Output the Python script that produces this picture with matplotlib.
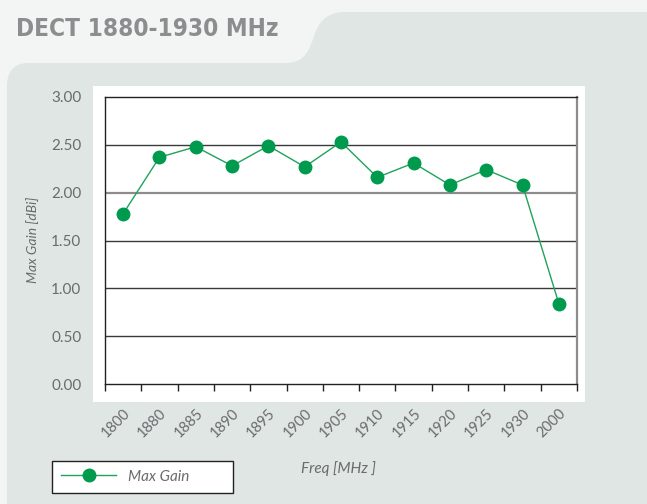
import matplotlib
matplotlib.use("Agg")
import matplotlib.pyplot as plt
from matplotlib.patches import PathPatch, Rectangle
from matplotlib.path import Path
from matplotlib.lines import Line2D
import numpy as np

# data
freqs = ['1800', '1880', '1885', '1890', '1895', '1900', '1905',
         '1910', '1915', '1920', '1925', '1930', '2000']
max_gain = [1.78, 2.37, 2.48, 2.28, 2.49, 2.27, 2.53,
            2.16, 2.31, 2.08, 2.24, 2.08, 0.84]
yticks = [0.0, 0.5, 1.0, 1.5, 2.0, 2.5, 3.0]

W, H = 647, 504
fig = plt.figure(figsize=(W / 100, H / 100), dpi=100)
fig.patch.set_facecolor('#f3f5f4')

def px(x, y):
    # pixel (from top-left) -> figure fraction
    return x / W, 1 - y / H

panel_col = '#e0e6e3'
# background panel with the tab on the top right
verts = [(660, 12), (345, 12),
         (325, 12), (318, 24), (314, 36),
         (308, 55), (302, 63), (285, 63),
         (28, 63),
         (14, 63), (7, 72), (7, 86),
         (7, 520), (660, 520), (660, 12)]
codes = [Path.MOVETO, Path.LINETO,
         Path.CURVE4, Path.CURVE4, Path.CURVE4,
         Path.CURVE4, Path.CURVE4, Path.CURVE4,
         Path.LINETO,
         Path.CURVE4, Path.CURVE4, Path.CURVE4,
         Path.LINETO, Path.LINETO, Path.CLOSEPOLY]
panel = Path([px(*v) for v in verts], codes)
fig.patches.append(PathPatch(panel, transform=fig.transFigure, fc=panel_col, ec='none', zorder=0))
# white plot box
fig.patches.append(Rectangle(px(93, 402), (585 - 93) / W, (402 - 86) / H,
                             transform=fig.transFigure, fc='white', ec='none', zorder=1))

fig.text(16 / W, 1 - 29 / H, 'DECT 1880-1930 MHz', fontsize=17.5, fontweight='bold',
         family=['DejaVu Sans'], stretch='condensed', color='#8b8d8f', va='center', ha='left')

l, b = px(105, 384)
r, t = px(577, 97)
ax = fig.add_axes([l, b, r - l, t - b])
ax.set_facecolor('none')
ax.set_zorder(2)

x = np.arange(len(freqs))
green = '#009a4e'
line, = ax.plot(x, max_gain, color='#1fa35b', lw=1, marker='o', markersize=9,
                markerfacecolor=green, markeredgecolor=green, zorder=3)

ax.set_xlim(-0.5, len(freqs) - 0.5)
ax.set_ylim(0, 3)

for yv in yticks[1:-1]:
    if yv == 2.0:
        ax.axhline(yv, color='#8c8c8c', lw=1.6, zorder=1)
    else:
        ax.axhline(yv, color='#3a3a3a', lw=1.0, zorder=1)

for s in ['top', 'left', 'bottom']:
    ax.spines[s].set_color('#222222')
    ax.spines[s].set_linewidth(1.0)
ax.spines['right'].set_color('#8c8c8c')
ax.spines['right'].set_linewidth(1.6)

light = ['Lato', 'DejaVu Sans']
txt_col = '#6a6b6d'
ax.set_yticks(yticks)
ax.set_yticklabels(['%.2f' % v for v in yticks], family=light,
                   fontsize=11, color=txt_col)
ax.tick_params(axis='y', length=0, pad=17)

ax.set_xticks(x)
ax.set_xticklabels(freqs, rotation=45, ha='right', va='top', rotation_mode='anchor',
                   family=light, fontsize=10.5, color=txt_col)
ax.tick_params(axis='x', which='major', length=0, pad=16)
ax.set_xticks(np.arange(len(freqs) + 1) - 0.5, minor=True)
ax.tick_params(axis='x', which='minor', length=5, width=1, color='#222222', direction='out')

fig.text(33 / W, 1 - 240 / H, 'Max Gain [dBi]', rotation=90, fontstyle='italic',
         family=light, fontsize=10, color=txt_col, ha='center', va='center')
fig.text(338 / W, 1 - 469 / H, 'Freq [MHz ]', fontstyle='italic',
         family=light, fontsize=11, color=txt_col, ha='center', va='center')

handle = Line2D([], [], color='#1fa35b', lw=1, marker='o', markersize=9,
                markerfacecolor=green, markeredgecolor=green)
lx, ly = px(52, 493)
leg = fig.legend([handle], ['Max Gain'], loc='lower left', mode='expand',
                 bbox_to_anchor=(lx, ly, 181 / W, 33 / H),
                 frameon=True, fancybox=False, edgecolor='#222222', facecolor='white',
                 handlelength=3.6, handletextpad=0.8, borderpad=0.6, borderaxespad=0,
                 prop={'family': light, 'style': 'italic', 'size': 11})
leg.get_frame().set_linewidth(1.0)
leg.get_frame().set_alpha(1)
for txt in leg.get_texts():
    txt.set_color(txt_col)

fig.savefig('out.png', dpi=100, facecolor=fig.get_facecolor())
